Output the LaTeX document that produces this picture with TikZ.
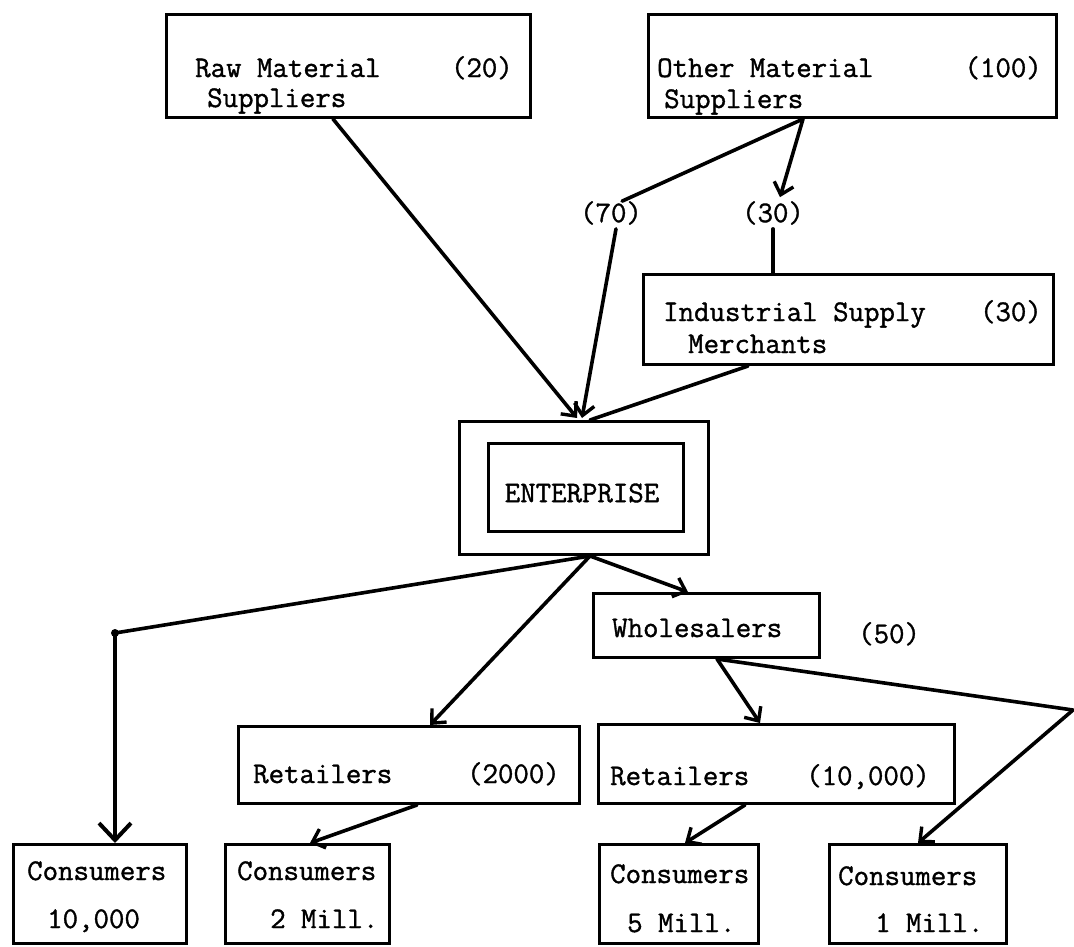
\documentclass[tikz,border=0pt]{standalone}
\usepackage{fontspec}
\newfontfamily\twfont{Latin Modern Mono}[FakeBold=1.2]
\usetikzlibrary{arrows.meta,calc}
\begin{document}
\begin{tikzpicture}[x=1pt,y=-1pt,
  box/.style={draw,line width=3pt,anchor=north west,inner sep=0pt,rectangle},
  txt/.style={inner sep=0pt,font=\twfont\fontsize{30}{36}\selectfont},
  conn/.style={line width=3.6pt,line cap=round,line join=round},
  arr/.style={-{Straight Barb[length=11pt,width=20pt,line width=3.4pt]}},
  bigarr/.style={-{Straight Barb[length=17pt,width=32pt,line width=4pt]}}]
\useasboundingbox (0,0) rectangle (1074,946);
% boxes
\node[box,minimum width=364pt,minimum height=103pt] (raw) at (165,13) {};
\node[box,minimum width=408pt,minimum height=103pt] (other) at (647,13) {};
\node[box,minimum width=410pt,minimum height=90pt] (ind) at (642,273) {};
\node[box,minimum width=249pt,minimum height=133pt] (entO) at (458,420) {};
\node[box,minimum width=195pt,minimum height=88pt] (entI) at (487,442) {};
\node[box,minimum width=226pt,minimum height=64pt] (whole) at (592,592) {};
\node[box,minimum width=341pt,minimum height=77pt] (ret1) at (237,725) {};
\node[box,minimum width=356pt,minimum height=79pt] (ret2) at (597,723) {};
\node[box,minimum width=173pt,minimum height=99pt] (c1) at (12,843) {};
\node[box,minimum width=164pt,minimum height=99pt] (c2) at (224,843) {};
\node[box,minimum width=159pt,minimum height=99pt] (c3) at (598,843) {};
\node[box,minimum width=177pt,minimum height=99pt] (c4) at (828,843) {};
% texts
\node[txt,anchor=base west] (rawa) at (195,77) {Raw Material};
\node[txt,anchor=base east] (rawn) at (513,77) {(20)};
\node[txt,anchor=base west] (rawb) at (207,107) {Suppliers};
\node[txt,anchor=base west] (otha) at (657,77) {Other Material};
\node[txt,anchor=base east] (othn) at (1042,77) {(100)};
\node[txt,anchor=base west] (othb) at (664,108) {Suppliers};
\node[txt] (n70) at (611,213) {(70)};
\node[txt] (n30) at (773,213) {(30)};
\node[txt,anchor=base west] (inda) at (663,321) {Industrial Supply};
\node[txt,anchor=base east] (indn) at (1042,321) {(30)};
\node[txt,anchor=base west] (indb) at (688,353) {Merchants};
\node[txt] (entt) at (582,493) {ENTERPRISE};
\node[txt,anchor=base west] (whot) at (612,637) {Wholesalers};
\node[txt,anchor=base west] (n50) at (858,643) {(50)};
\node[txt,anchor=base west] (r1a) at (253,783) {Retailers};
\node[txt,anchor=base east] (r1n) at (560,783) {(2000)};
\node[txt,anchor=base west] (r2a) at (610,785) {Retailers};
\node[txt,anchor=base east] (r2n) at (930,785) {(10,000)};
\node[txt,anchor=base west] (c1a) at (27,880) {Consumers};
\node[txt,anchor=base west] (c1b) at (47,928) {10,000};
\node[txt,anchor=base west] (c2a) at (237,880) {Consumers};
\node[txt,anchor=base west] (c2b) at (270,928) {2 Mill.};
\node[txt,anchor=base west] (c3a) at (610,883) {Consumers};
\node[txt,anchor=base west] (c3b) at (627,932) {5 Mill.};
\node[txt,anchor=base west] (c4a) at (838,885) {Consumers};
\node[txt,anchor=base west] (c4b) at (875,932) {1 Mill.};
% helper points
\coordinate (dot) at (115,633);
\coordinate (corner) at (1073,710);
% connectors
\draw[conn,arr] ([xshift=168pt]raw.south west) -- ([xshift=119pt,yshift=2pt]entO.north west);
\draw[conn] ([xshift=156pt]other.south west) -- ([xshift=-20pt]n70.north east);
\draw[conn,arr] ([xshift=5pt,yshift=-4pt]n70.south) -- ([xshift=124pt,yshift=2pt]entO.north west);
\draw[conn,arr] ([xshift=156pt]other.south west) -- ([xshift=7pt,yshift=4pt]n30.north);
\draw[conn] ([yshift=-4pt]n30.south) -- (n30.south |- ind.north);
\draw[conn] ([xshift=106pt]ind.south west) -- ([xshift=132pt]entO.north west);
\draw[conn] ([xshift=132pt]entO.south west) -- (dot);
\draw[conn,bigarr] (dot) -- ([xshift=103pt]c1.north west);
\fill (dot) circle (4pt);
\draw[conn,arr] ([xshift=132pt]entO.south west) -- ([xshift=193pt]ret1.north west);
\draw[conn,arr] ([xshift=132pt]entO.south west) -- ([xshift=96pt]whole.north west);
\draw[conn,arr] ([xshift=125pt]whole.south west) -- ([xshift=163pt]ret2.north west);
\draw[conn] ([xshift=125pt]whole.south west) -- (corner);
\draw[conn,arr] (corner) -- ([xshift=90pt]c4.north west);
\draw[conn,arr] ([xshift=180pt]ret1.south west) -- ([xshift=86pt]c2.north west);
\draw[conn,arr] ([xshift=148pt]ret2.south west) -- ([xshift=87pt]c3.north west);
\end{tikzpicture}
\end{document}
